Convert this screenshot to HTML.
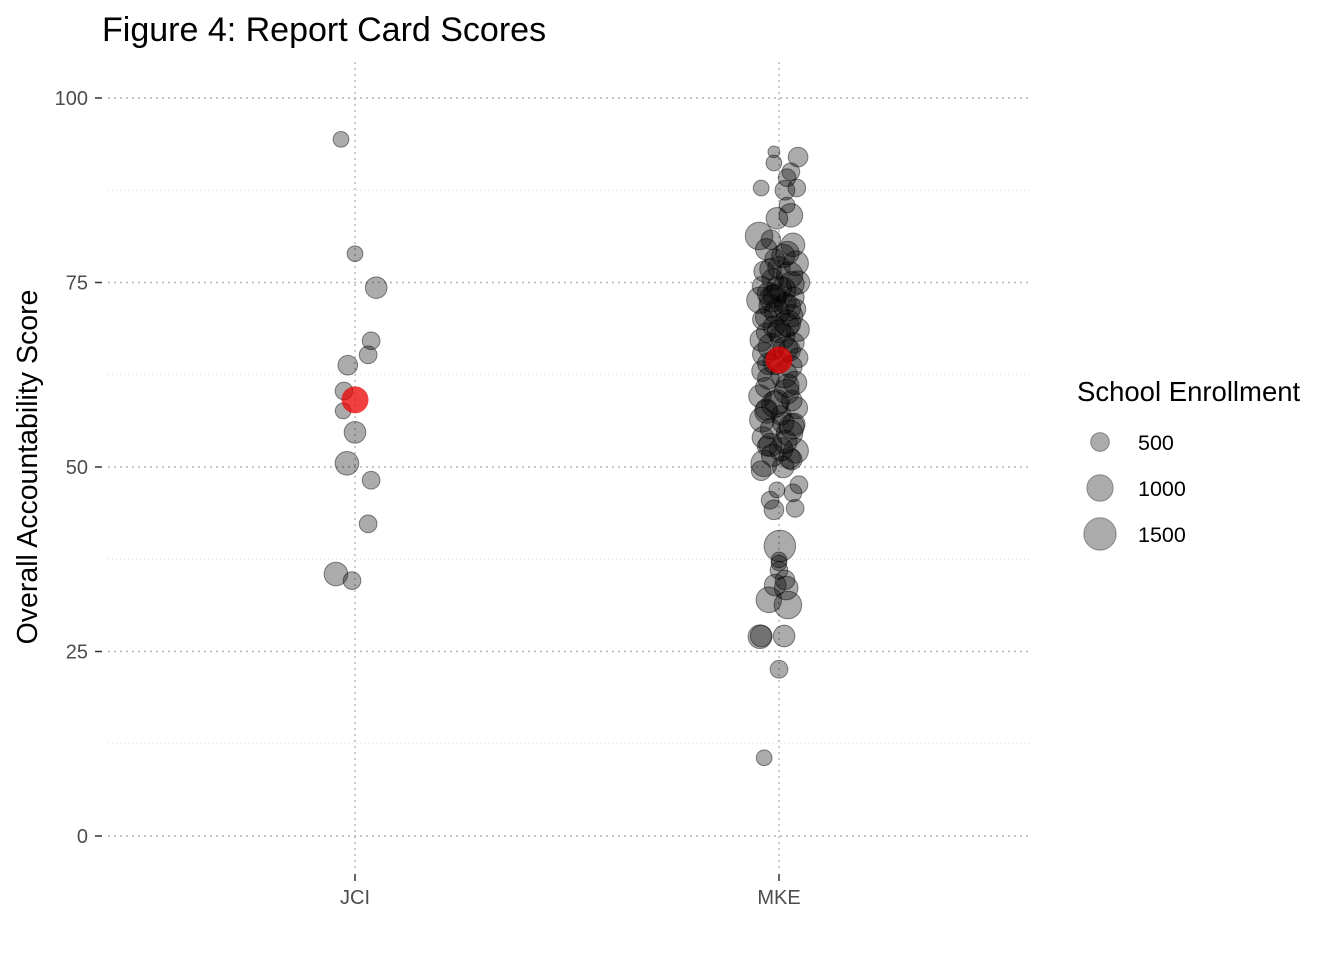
<!DOCTYPE html>
<html><head><meta charset="utf-8"><style>
body{margin:0;background:#fff;font-family:"Liberation Sans",sans-serif;}
svg text{font-family:"Liberation Sans",sans-serif;}
</style></head><body>
<svg id="chart" width="1344" height="960" xmlns="http://www.w3.org/2000/svg">
<text x="102" y="41" font-size="34" fill="#000">Figure 4: Report Card Scores</text>
<g id="grid"></g>
<g id="axes"></g>
<g id="points"></g>
<text transform="translate(37,467) rotate(-90)" text-anchor="middle" font-size="28.5" fill="#000">Overall Accountability Score</text>
<g id="legend">
<text x="1077" y="401" font-size="27.5" fill="#000">School Enrollment</text>
</g>
</svg>
<script>
const categories = ["JCI","MKE"];
const yTicks = [0,25,50,75,100];
const yMinor = [12.5,37.5,62.5,87.5];
// JCI
const jciScores = [94.4,78.9,74.3,67.1,65.2,63.8,60.3,57.6,54.7,50.5,48.2,42.3,35.5,34.6];
const jciJitter = [-0.033,0,0.05,0.038,0.031,-0.017,-0.026,-0.028,0,-0.019,0.038,0.031,-0.045,-0.007];
const jciEnroll = [320,320,605,405,405,500,405,320,605,720,405,405,720,405];
// MKE
const mkeScores = [10.6,22.6,27.0,27.1,27.1,31.3,32.0,33.6,34.0,34.7,36.0,37.0,39.3,37.4,44.2,44.4,45.5,46.5,47.6,46.9,
92.0,92.7,91.2,90.0,89.2,87.8,87.8,87.5,85.5,84.1,83.7,81.3,80.8,80.1,
79.5,79.0,78.2,77.6,77.0,76.5,76.0,75.4,75.0,74.5,74.0,73.5,73.0,72.6,72.2,71.8,71.4,71.0,70.5,70.0,69.5,69.0,68.6,68.2,67.7,67.2,66.8,66.3,65.8,65.3,64.8,64.2,63.6,63.0,62.5,62.0,61.4,60.8,60.2,59.6,59.0,58.5,58.0,57.5,57.0,56.4,55.8,55.2,54.6,54.0,53.4,52.8,52.2,51.6,51.0,50.5,50.0,49.5,
78.6,76.8,74.8,73.2,71.6,70.3,68.4,66.0,64.0,61.0,58.8,56.0,53.0,51.2,72.8,74.2,69.2,57.8,55.5,52.4];
const mkeJitter = [-0.035,0,-0.045,-0.042,0.012,0.021,-0.024,0.017,-0.009,0.014,0,0,0.002,0,-0.012,0.038,-0.021,0.033,0.047,-0.005,
0.045,-0.012,-0.012,0.028,0.019,-0.042,0.042,0.014,0.019,0.028,-0.005,-0.047,-0.019,0.033,
-0.03,0.02,-0.01,0.04,0.0,-0.035,0.025,-0.015,0.045,-0.04,0.01,-0.025,0.035,-0.045,0.015,-0.02,0.04,-0.005,0.03,-0.038,0.02,-0.012,0.044,-0.03,0.008,-0.042,0.035,-0.018,0.025,-0.035,0.045,-0.008,0.028,-0.04,0.012,-0.025,0.038,-0.032,0.018,-0.045,0.03,-0.01,0.042,-0.03,0.005,-0.04,0.035,-0.02,0.025,-0.038,0.015,-0.028,0.04,-0.015,0.03,-0.035,0.01,-0.042,
0.01,-0.02,0.03,-0.01,0.02,-0.03,0.0,0.015,-0.025,0.02,-0.005,0.01,-0.02,0.025,-0.015,0.0,0.02,-0.03,0.03,0.005];
const mkeEnroll = [320,405,720,605,605,980,845,720,605,500,405,320,1280,320,500,405,405,405,405,320,
500,180,320,405,405,320,405,500,320,720,605,980,500,720,
600,700,500,800,650,550,900,600,700,500,800,650,550,900,600,700,500,800,650,550,900,600,700,500,800,650,550,900,600,700,500,800,650,550,900,600,700,500,800,650,550,900,600,700,500,800,650,550,900,600,700,500,800,650,550,900,600,500,
700,600,800,700,900,600,700,800,600,700,800,600,700,600,900,800,700,600,800,700];
const means = [59.1,64.5];
const legendValues = [500,1000,1500];

const NS="http://www.w3.org/2000/svg";
const x0=355, x1=779, left=108, right=1032;
const xScale = i => x0 + i*(x1-x0);
const yScale = v => 836 - v*7.38;
const rScale = n => 0.44*Math.sqrt(n);
function mk(tag, parent){const e=document.createElementNS(NS,tag);parent.appendChild(e);return e;}
const grid=document.getElementById('grid'), axes=document.getElementById('axes'), pts=document.getElementById('points'), leg=document.getElementById('legend');
yTicks.forEach(t=>{
  const l=mk('line',grid);
  
  
  l.setAttribute('x1',left);l.setAttribute('x2',right);l.setAttribute('y1',yScale(t));l.setAttribute('y2',yScale(t));
  l.setAttribute('stroke','#b3b3b3');l.setAttribute('stroke-width','1.4');l.setAttribute('stroke-dasharray','2,4');
  const tk=mk('line',axes);
  
  
  tk.setAttribute('x1',95);tk.setAttribute('x2',102);tk.setAttribute('y1',yScale(t));tk.setAttribute('y2',yScale(t));tk.setAttribute('stroke','#333');tk.setAttribute('stroke-width','1.5');
  const tx=mk('text',axes);
  
  
  tx.setAttribute('x',88);tx.setAttribute('y',yScale(t)+7);tx.setAttribute('text-anchor','end');tx.setAttribute('font-size','20');tx.setAttribute('fill','#4d4d4d');tx.textContent=t;
});
yMinor.forEach(t=>{
  const l=mk('line',grid);
  
  
  l.setAttribute('x1',left);l.setAttribute('x2',right);l.setAttribute('y1',yScale(t));l.setAttribute('y2',yScale(t));
  l.setAttribute('stroke','#cfcfcf');l.setAttribute('stroke-width','0.8');l.setAttribute('stroke-dasharray','1,3');
});
categories.forEach((c,i)=>{
  const l=mk('line',grid);
  
  
  l.setAttribute('x1',xScale(i));l.setAttribute('x2',xScale(i));l.setAttribute('y1',62);l.setAttribute('y2',872);
  l.setAttribute('stroke','#b3b3b3');l.setAttribute('stroke-width','1.4');l.setAttribute('stroke-dasharray','2,4');
  const tk=mk('line',axes);
  
  
  tk.setAttribute('x1',xScale(i));tk.setAttribute('x2',xScale(i));tk.setAttribute('y1',874);tk.setAttribute('y2',881);tk.setAttribute('stroke','#333');tk.setAttribute('stroke-width','1.5');
  const tx=mk('text',axes);
  
  
  tx.setAttribute('x',xScale(i));tx.setAttribute('y',904);tx.setAttribute('text-anchor','middle');tx.setAttribute('font-size','20');tx.setAttribute('fill','#4d4d4d');tx.textContent=c;
});
function dot(ci,j,s,n){
  const c=mk('circle',pts);
  
  
  c.setAttribute('cx',xScale(ci+j));c.setAttribute('cy',yScale(s));c.setAttribute('r',rScale(n));
  c.setAttribute('fill','rgba(0,0,0,0.33)');c.setAttribute('stroke','rgba(0,0,0,0.45)');c.setAttribute('stroke-width','1');
}
jciScores.forEach((s,k)=>dot(0,jciJitter[k],s,jciEnroll[k]));
mkeScores.forEach((s,k)=>dot(1,mkeJitter[k],s,mkeEnroll[k]));
means.forEach((m,i)=>{
  const c=mk('circle',pts);
  
  
  c.setAttribute('cx',xScale(i));c.setAttribute('cy',yScale(m));c.setAttribute('r',13.5);c.setAttribute('fill','rgba(235,0,0,0.75)');
});
legendValues.forEach((v,i)=>{
  const y=442+i*46;
  const c=mk('circle',leg);
  
  
  c.setAttribute('cx',1100);c.setAttribute('cy',y);c.setAttribute('r',rScale(v)*0.95);c.setAttribute('fill','rgba(0,0,0,0.33)');c.setAttribute('stroke','rgba(0,0,0,0.35)');
  const t=mk('text',leg);
  
  
  t.setAttribute('x',1138);t.setAttribute('y',y+8);t.setAttribute('font-size','21.5');t.setAttribute('fill','#000');t.textContent=v;
});
</script>
</body></html>
